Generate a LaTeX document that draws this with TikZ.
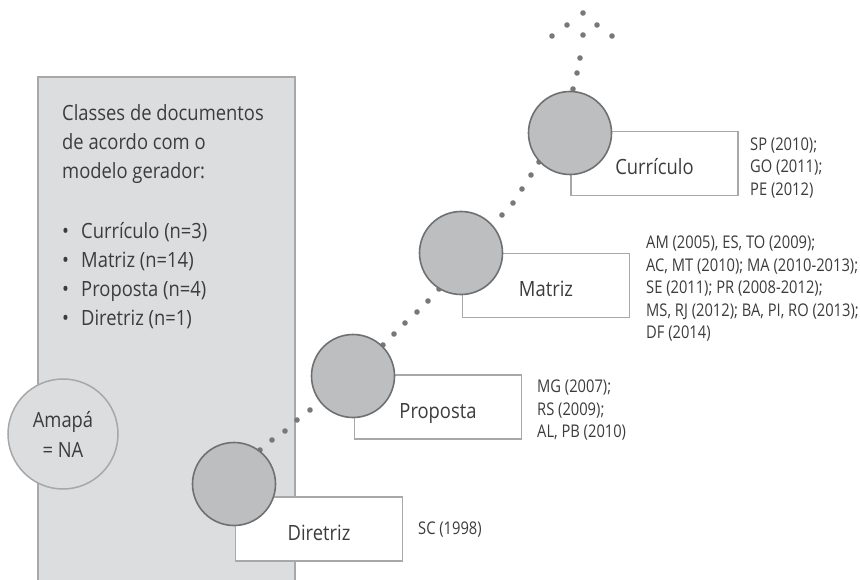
\documentclass[tikz,border=0pt]{standalone}
\usepackage{fontspec}
\setmainfont{Open Sans}[FakeStretch=0.875]
\newfontfamily\lblfont{Open Sans}[FakeStretch=0.84]
\definecolor{txt}{HTML}{3C3C3C}
\definecolor{panelfill}{HTML}{DCDDDF}
\definecolor{panelline}{HTML}{A7A8AA}
\definecolor{circfill}{HTML}{BDBEC0}
\definecolor{circline}{HTML}{6F7072}
\definecolor{boxline}{HTML}{A7A8AA}
\definecolor{dotc}{HTML}{77787A}
\begin{document}
\begin{tikzpicture}[x=1pt,y=-1pt,
  mainfnt/.style={font=\fontsize{21}{29}\selectfont, text=txt},
  lblfnt/.style={font=\lblfont\fontsize{17.5}{22.5}\selectfont, text=txt, align=left, anchor=west, inner sep=0pt},
  stage/.style={circle, draw=circline, line width=1.6pt, fill=circfill, minimum size=83pt, inner sep=0pt},
  stagebox/.style={rectangle, draw=boxline, line width=1.5pt, fill=white, minimum width=167pt, minimum height=64pt, inner sep=0pt, mainfnt, text height=22pt, text depth=0pt},
  dotpt/.style={fill=dotc}
]
\clip (0,0) rectangle (860,580);
\fill[white] (0,0) rectangle (860,580);

% panel
\draw[fill=panelfill, draw=panelline, line width=1.5pt] (38,77) rectangle (295,590);
\node[mainfnt, anchor=north west, align=left, inner sep=0pt] (legend) at (62,104)
 {Classes de documentos\\de acordo com o\\modelo gerador:\\[31pt]
  \makebox[19pt][l]{•}Currículo (n=3)\\
  \makebox[19pt][l]{•}Matriz (n=14)\\
  \makebox[19pt][l]{•}Proposta (n=4)\\
  \makebox[19pt][l]{•}Diretriz (n=1)};

% Amapa
\node[circle, draw=panelline, line width=1.5pt, fill=panelfill, minimum size=110pt, inner sep=0pt,
      font=\fontsize{21}{30}\selectfont, text=txt, align=center] (amapa) at (63,434) {Amapá\\= NA};

% dots
\foreach \p in {(260,450),(272,440),(285,431),(297,420),(310,410),
                (383,345),(394,334),(405,323),(417,312),(428,301),(439,289),
                (502,215),(513,203),(522,189),(531,175),(539,162),
                (573,89),(577,73),(580,58),(583,35),
                (552,36),(567,25),(583,13),(597,25),(612,36)}
  \fill[dotpt] \p circle (2.8);

% boxes
\node[stagebox] (dirb) at (319,529) {Diretriz};
\node[stagebox] (prob) at (438,407) {Proposta};
\node[stagebox] (matb) at (546,285.5) {Matriz};
\node[stagebox] (curb) at (654.5,163.5) {Currículo};

% circles
\node[stage] (dir) at (234,484) {};
\node[stage] (pro) at (353,376) {};
\node[stage] (mat) at (461,253) {};
\node[stage] (cur) at (570,133) {};

% labels
\node[lblfnt] (curl) at (750,168) {SP (2010);\\GO (2011);\\PE (2012)};
\node[lblfnt] (matl) at (646,289) {AM (2005), ES, TO (2009);\\AC, MT (2010); MA (2010-2013);\\SE (2011); PR (2008-2012);\\MS, RJ (2012); BA, PI, RO (2013);\\DF (2014)};
\node[lblfnt] (prol) at (537,410.5) {MG (2007);\\RS (2009);\\AL, PB (2010)};
\node[lblfnt] (dirl) at (418,530) {SC (1998)};
\end{tikzpicture}
\end{document}
